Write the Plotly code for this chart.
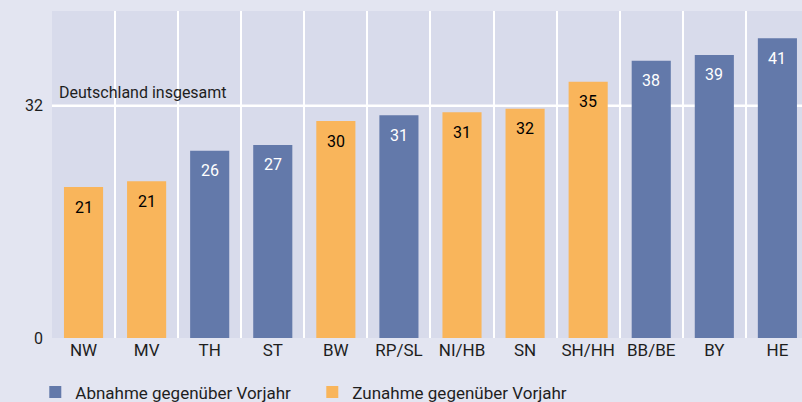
import plotly.graph_objects as go

categories = ["NW", "MV", "TH", "ST", "BW", "RP/SL", "NI/HB", "SN", "SH/HH", "BB/BE", "BY", "HE"]
values = [20.8, 21.6, 25.8, 26.6, 29.9, 30.7, 31.1, 31.6, 35.3, 38.2, 39.0, 41.3]
labels = ["21", "21", "26", "27", "30", "31", "31", "32", "35", "38", "39", "41"]
change = ["up", "up", "down", "down", "up", "down", "up", "up", "up", "down", "down", "down"]
national_value = 32
national_label = "Deutschland insgesamt"
legend_names = {"down": "Abnahme gegenüber Vorjahr", "up": "Zunahme gegenüber Vorjahr"}
y_ticks = [0, 32]

BLUE = "#6379aa"
ORANGE = "#f9b55b"
PAPER = "#e3e5f1"
PLOT = "#d8dbeb"
TEXT = "#1e1e1e"
FONT = "Roboto, Open Sans, sans-serif"

fig = go.Figure()
for key, color in [("down", BLUE), ("up", ORANGE)]:
    xs = [c for c, ch in zip(categories, change) if ch == key]
    ys = [v for v, ch in zip(values, change) if ch == key]
    fig.add_trace(go.Bar(
        x=xs, y=ys, name=legend_names[key], marker=dict(color=color, line=dict(width=0)),
        hoverinfo="x+y",
    ))

# value labels inside bars near the top
for c, v, lab, ch in zip(categories, values, labels, change):
    fig.add_annotation(
        x=c, y=v, text=lab, showarrow=False, yanchor="middle", yshift=-20,
        font=dict(size=16, color="white" if ch == "down" else "black", family=FONT),
    )

# national reference line
fig.add_shape(type="line", xref="paper", x0=0, x1=1, y0=national_value, y1=national_value,
              line=dict(color="white", width=2.5), layer="below")
fig.add_annotation(xref="paper", x=0, xanchor="left", xshift=5, y=national_value,
                   yanchor="bottom", yshift=2, text=national_label, showarrow=False,
                   font=dict(size=16, color=TEXT, family=FONT))

fig.update_layout(
    width=802, height=402,
    paper_bgcolor=PAPER, plot_bgcolor=PLOT,
    margin=dict(l=52, r=0, t=11, b=64, autoexpand=False),
    barmode="overlay", bargap=0.38,
    font=dict(family=FONT, color=TEXT, size=16),
    showlegend=True,
    legend=dict(orientation="h", xref="container", x=0.044, xanchor="left",
                yref="container", y=0.024, yanchor="middle",
                entrywidth=232, font=dict(size=17, family=FONT, color=TEXT),
                bgcolor="rgba(0,0,0,0)", traceorder="normal"),
    xaxis=dict(type="category", categoryorder="array", categoryarray=categories,
               range=[-0.5, 11.39], tickson="boundaries", showgrid=True,
               gridcolor="white", gridwidth=1.5, ticks="", showline=False,
               zeroline=False, tickfont=dict(size=17, family=FONT, color=TEXT),
               fixedrange=True),
    yaxis=dict(range=[0, 45.06], tickvals=y_ticks, showgrid=False, zeroline=False,
               showline=False, ticks="", ticklabelstandoff=8,
               tickfont=dict(size=16, family=FONT, color=TEXT), fixedrange=True),
)

fig.write_html(
    "out.html",
    config={"displayModeBar": False},
    post_script="document.body.style.margin='0';document.body.style.overflow='hidden';"
                "document.body.style.background='" + PAPER + "';",
)
